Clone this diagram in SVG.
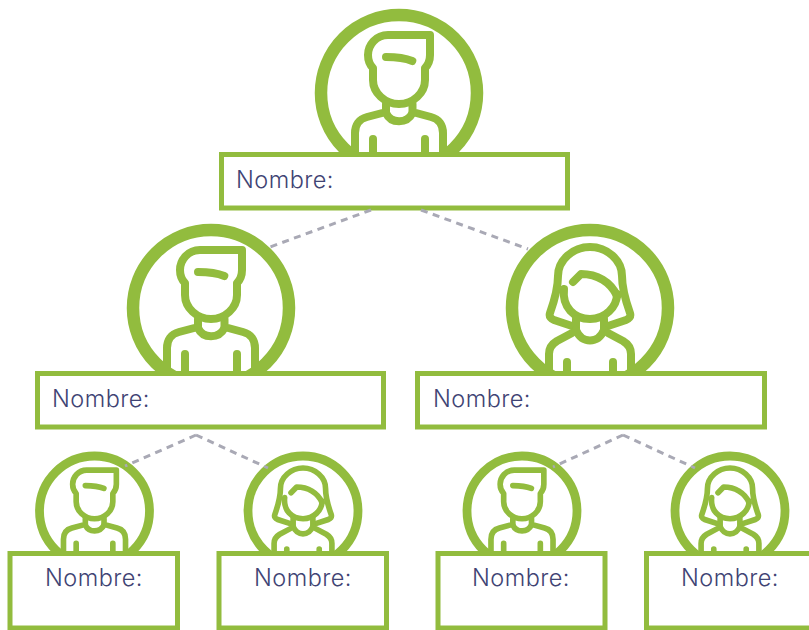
<svg xmlns="http://www.w3.org/2000/svg" xmlns:xlink="http://www.w3.org/1999/xlink" width="809" height="630" viewBox="0 0 809 630">
<style>
.ring{fill:#fff;stroke:#92bc3e;stroke-width:12.500}
.ic{fill:none;stroke:#92bc3e;stroke-width:8;stroke-linecap:round;stroke-linejoin:round}
.box{fill:#fff;stroke:#92bc3e;stroke-width:5}
.lbl{font-family:"Inter","Liberation Sans",sans-serif;font-size:23.500px;font-weight:300;letter-spacing:.45px;fill:#3f4474}
.dash{fill:none;stroke:#a9a9b5;stroke-width:3;stroke-dasharray:7 5.500}
</style>
<defs>
<g id="man">
<circle class="ring" r="78"/>
<path class="ic" d="M31-58H-11C-23-58-31-48-31-38C-31-32-29-28-26-25V-13C-26 0-14 11 0 11S26 0 26-13V-25C29-28 31-33 31-38Z"/>
<path class="ic" d="M-13-36C-4-36 6-35 13.300-32"/>
<path class="ic" d="M-13 11V19L-32 24C-40 26-44 32-44 40V64M13.500 11V19L32 24C40 26 44 32 44 40V64"/>
<path class="ic" d="M-13 20C-8 31 8 31 13.500 20"/>
<path class="ic" d="M-26 46V64M26 46V64"/>
</g>
<g id="woman">
<circle class="ring" r="78"/>
<path class="ic" d="M-26-19C-28-1-16 11 0 11C15 11 27-1 27-14"/>
<path class="ic" d="M-17-26L-9-34C7-34 21-26 27-12"/>
<path class="ic" d="M-18 18L-36 12C-40 10-41 8-40 5C-35-9-32-22-32-32C-32-48-17-61 0-61S32-48 32-32C32-22 35-9 40 5C41 8 40 10 36 12L18 18"/>
<path class="ic" d="M-14 11V23M14 11V23"/>
<path class="ic" d="M-14 22C-8 36 8 36 14 22"/>
<path class="ic" d="M-18 25L-33 33C-38 36-41 41-41 46V66M18 25L33 33C38 36 41 41 41 46V66"/>
<path class="ic" d="M-23 54V66M23 54V66"/>
</g>
</defs>
<rect width="809" height="630" fill="#fff"/>
<g id="node-top">
<use href="#man" xlink:href="#man" transform="translate(399 93)"/>
<rect class="box" x="221.500" y="154.500" width="346" height="53.500"/>
<text class="lbl" x="236" y="188">Nombre:</text>
</g>
<g id="node-mid-left">
<use href="#man" xlink:href="#man" transform="translate(211 308)"/>
<rect class="box" x="37.500" y="373.500" width="346" height="53.500"/>
<text class="lbl" x="52" y="407">Nombre:</text>
</g>
<g id="node-mid-right">
<use href="#woman" xlink:href="#woman" transform="translate(590 308)"/>
<rect class="box" x="417.500" y="373.500" width="347" height="53.500"/>
<text class="lbl" x="433" y="407">Nombre:</text>
</g>
<g id="node-leaf-1">
<use href="#man" xlink:href="#man" transform="translate(94.500 511) scale(.705)"/>
<rect class="box" x="10" y="553.500" width="167.500" height="74.500"/>
<text class="lbl" x="94" y="586" text-anchor="middle">Nombre:</text>
</g>
<g id="node-leaf-2">
<use href="#woman" xlink:href="#woman" transform="translate(303 511) scale(.705)"/>
<rect class="box" x="219" y="553.500" width="167.500" height="74.500"/>
<text class="lbl" x="303" y="586" text-anchor="middle">Nombre:</text>
</g>
<g id="node-leaf-3">
<use href="#man" xlink:href="#man" transform="translate(522 511) scale(.705)"/>
<rect class="box" x="438" y="553.500" width="167" height="74.500"/>
<text class="lbl" x="521" y="586" text-anchor="middle">Nombre:</text>
</g>
<g id="node-leaf-4">
<use href="#woman" xlink:href="#woman" transform="translate(730 511) scale(.705)"/>
<rect class="box" x="646.500" y="553.500" width="167.500" height="74.500"/>
<text class="lbl" x="730" y="586" text-anchor="middle">Nombre:</text>
</g>
<g id="connectors">
<path class="dash" d="M371 210L270 247"/>
<path class="dash" d="M421 210L528 249"/>
<path class="dash" d="M196 435L125 466"/>
<path class="dash" d="M196 435L268 468"/>
<path class="dash" d="M623 435L553 467"/>
<path class="dash" d="M623 435L695 468"/>
</g>
</svg>
